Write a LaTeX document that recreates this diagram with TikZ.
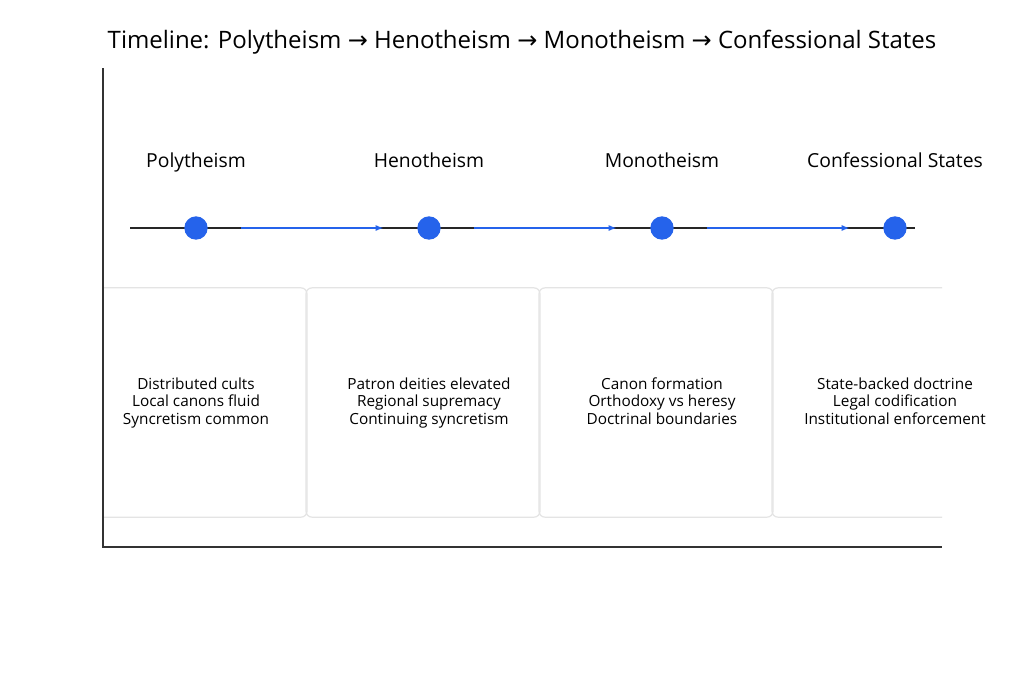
\documentclass[tikz,border=0pt]{standalone}
\usepackage{fontspec}
\setmainfont{Open Sans}
\newfontfamily\symfont{DejaVu Sans}
\usetikzlibrary{arrows.meta}
\definecolor{dotblue}{HTML}{2563EB}
\definecolor{boxgray}{HTML}{E4E4E4}
\tikzset{
  stagedot/.style={circle,fill=dotblue,inner sep=0pt,minimum size=17.5pt},
  stagelabel/.style={font=\fontsize{14.5}{16}\selectfont,anchor=base},
  stagebox/.style={draw=boxgray,line width=0.9pt,rounded corners=4.5pt,minimum width=175.5pt,minimum height=172pt},
  stagetext/.style={align=center,anchor=base,font=\fontsize{11.5}{12.8}\selectfont},
  stagearrow/.style={-{Latex[length=6pt,width=4.5pt]},dotblue,line width=1.3pt}
}
\newcommand{\tarrow}{{\symfont →}}
\begin{document}
\begin{tikzpicture}[x=0.75pt,y=-0.75pt]
\useasboundingbox[fill=white] (0,0) rectangle (1024,683);
\node[font=\fontsize{18}{21}\selectfont] (title) at (522,42) {Timeline: Polytheism \tarrow{} Henotheism \tarrow{} Monotheism \tarrow{} Confessional States};
% boxes clipped to the plot area
\begin{scope}
\clip (103,280) rectangle (942,530);
\foreach \x/\nm in {196/p,429/h,662/m,895/c}
  \node[stagebox] (box\nm) at (\x-6,402.5) {};
\end{scope}
\foreach \x/\nm/\txt in {196/p/{Distributed cults\\Local canons fluid\\Syncretism common},
  429/h/{Patron deities elevated\\Regional supremacy\\Continuing syncretism},
  662/m/{Canon formation\\Orthodoxy vs heresy\\Doctrinal boundaries},
  895/c/{State-backed doctrine\\Legal codification\\Institutional enforcement}}
  \node[stagetext] (txt\nm) at (\x,424) {\txt};
% axes
\draw[line width=0.8pt,black!80] (103,68) -- (103,547) -- (942,547);
\coordinate (lineL) at (130,228);
\coordinate (lineR) at (915,228);
\draw[line width=1.3pt,black!85] (lineL) -- (lineR);
\foreach \x/\nm/\lbl in {196/p/Polytheism,429/h/Henotheism,662/m/Monotheism,895/c/Confessional States}{
  \node[stagedot] (dot\nm) at (\x,228) {};
  \node[stagelabel] (lbl\nm) at (\x,167) {\lbl};
}
\draw[stagearrow] ([xshift=25pt]dotp.east) -- ([xshift=-25pt]doth.west);
\draw[stagearrow] ([xshift=25pt]doth.east) -- ([xshift=-25pt]dotm.west);
\draw[stagearrow] ([xshift=25pt]dotm.east) -- ([xshift=-25pt]dotc.west);
\end{tikzpicture}
\end{document}
